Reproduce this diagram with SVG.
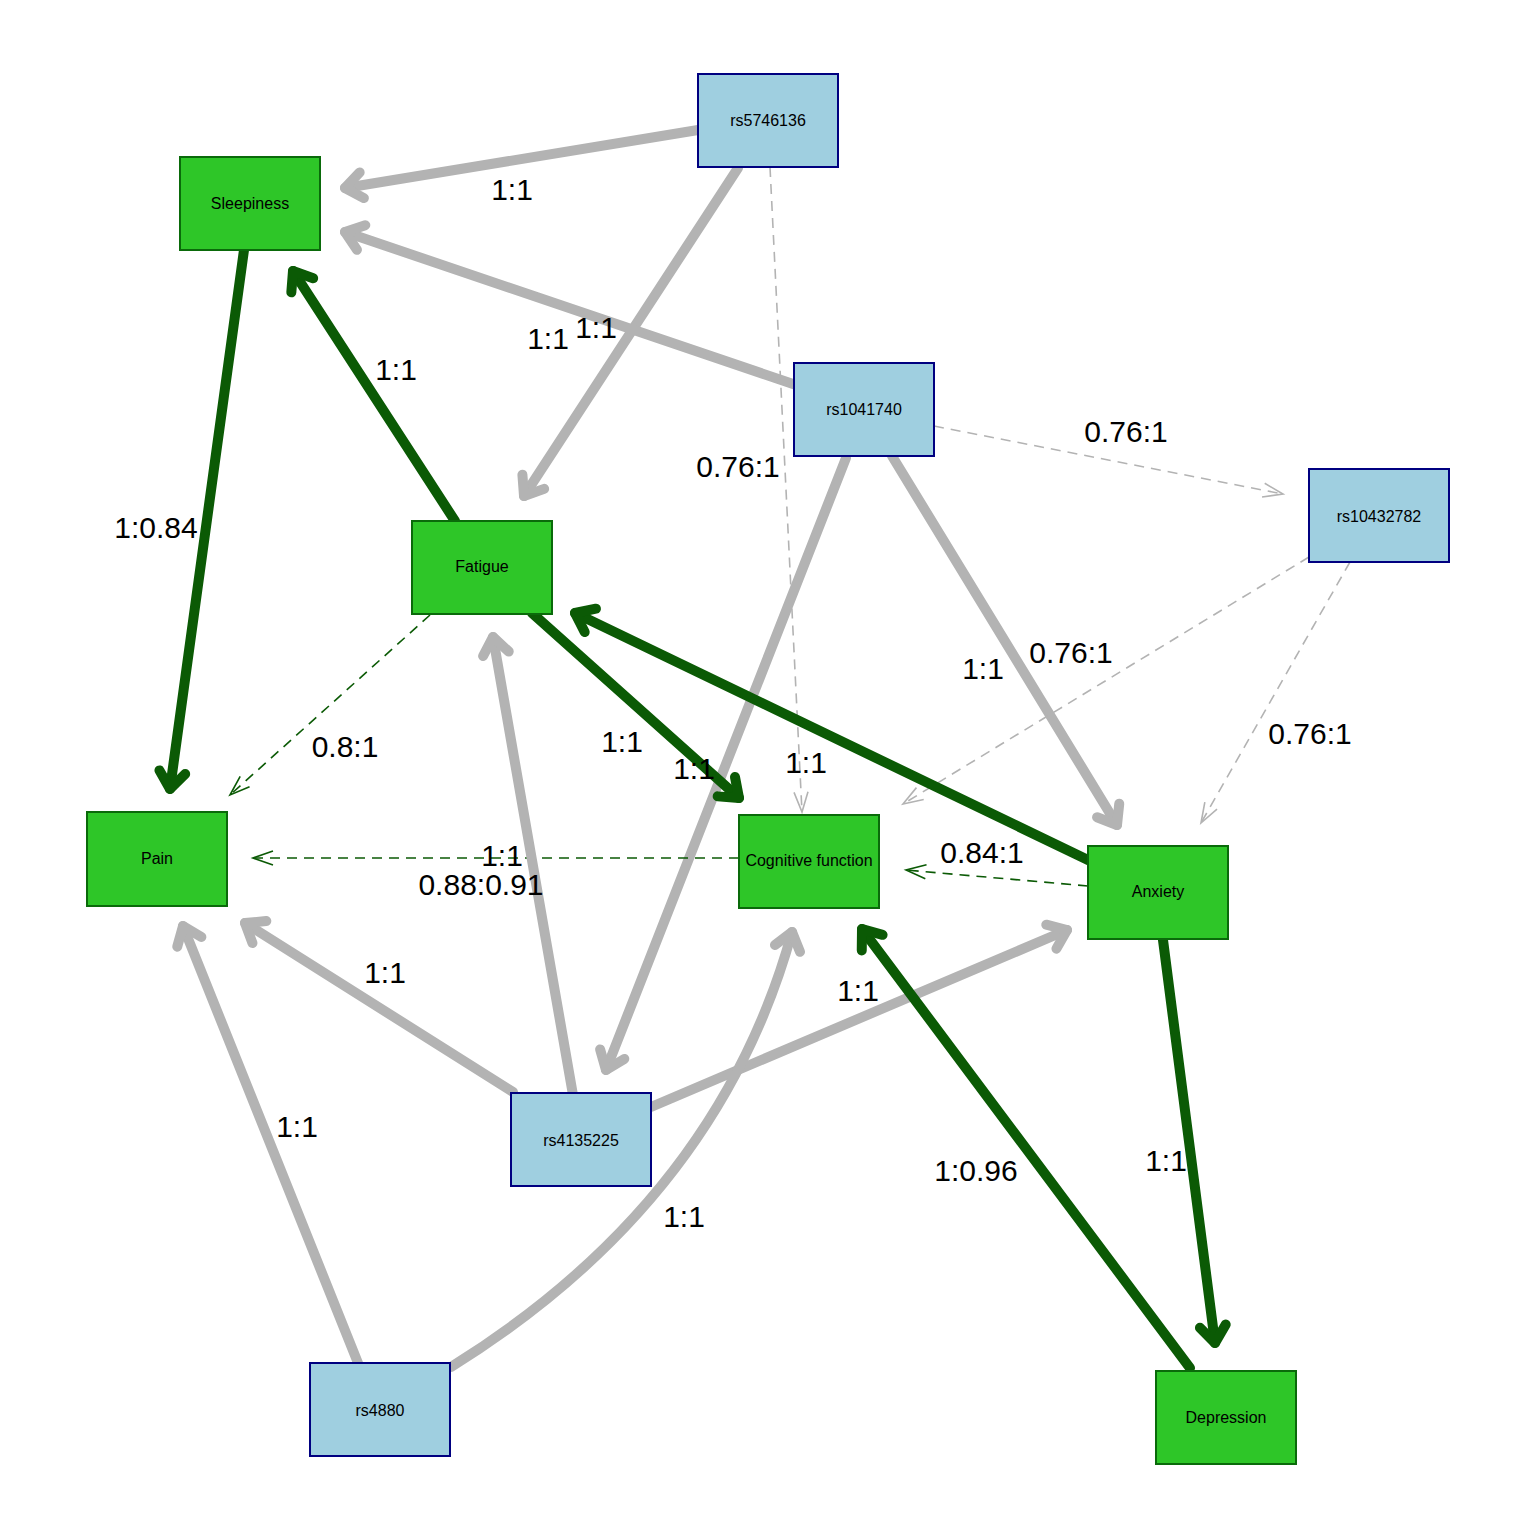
<svg xmlns="http://www.w3.org/2000/svg" width="1536" height="1536" viewBox="0 0 1536 1536">
<style>
.bg{fill:#ffffff}
.g rect{fill:#2EC628;stroke:#0A6A0A;stroke-width:2}
.b rect{fill:#9FCFE0;stroke:#000080;stroke-width:2}
.nt{font-family:"Liberation Sans",Arial,sans-serif;font-size:16px;fill:#000;text-anchor:middle}
.lb{font-family:"Liberation Sans",Arial,sans-serif;font-size:30px;fill:#000;text-anchor:middle}
.tg{fill:none;stroke:#B3B3B3;stroke-width:10;stroke-linecap:round}
.tk{fill:none;stroke:#0B5A05;stroke-width:10;stroke-linecap:round}
.dg{fill:none;stroke:#B3B3B3;stroke-width:1.6;stroke-dasharray:10 7}
.dk{fill:none;stroke:#0B5A05;stroke-width:1.6;stroke-dasharray:10 7}
</style>
<defs>
<marker id="ag" markerUnits="userSpaceOnUse" orient="auto" refX="0" refY="0" markerWidth="60" markerHeight="60" viewBox="-30 -30 60 60" overflow="visible">
<path d="M -17 -13 L 0 0 L -17 13" fill="none" stroke="#B3B3B3" stroke-width="10" stroke-linecap="round" stroke-linejoin="round"/>
</marker>
<marker id="ak" markerUnits="userSpaceOnUse" orient="auto" refX="0" refY="0" markerWidth="60" markerHeight="60" viewBox="-30 -30 60 60" overflow="visible">
<path d="M -17 -13 L 0 0 L -17 13" fill="none" stroke="#0B5A05" stroke-width="10" stroke-linecap="round" stroke-linejoin="round"/>
</marker>
<marker id="adg" markerUnits="userSpaceOnUse" orient="auto" refX="0" refY="0" markerWidth="60" markerHeight="60" viewBox="-30 -30 60 60" overflow="visible">
<path d="M -20 -7 L 0 0 L -20 7" fill="none" stroke="#B3B3B3" stroke-width="1.6"/>
</marker>
<marker id="adk" markerUnits="userSpaceOnUse" orient="auto" refX="0" refY="0" markerWidth="60" markerHeight="60" viewBox="-30 -30 60 60" overflow="visible">
<path d="M -20 -7 L 0 0 L -20 7" fill="none" stroke="#0B5A05" stroke-width="1.6"/>
</marker>
</defs>
<rect class="bg" x="0" y="0" width="1536" height="1536"/>
<g id="edges">
<path class="tg" d="M 698 130 L 345 188" marker-end="url(#ag)"/>
<path class="tg" d="M 738 168 L 524 496" marker-end="url(#ag)"/>
<path class="dg" d="M 770 167 L 802 812" marker-end="url(#adg)"/>
<path class="tg" d="M 796 385 L 345 232" marker-end="url(#ag)"/>
<path class="dg" d="M 934 426 L 1283 494" marker-end="url(#adg)"/>
<path class="tg" d="M 846 458 L 606 1070" marker-end="url(#ag)"/>
<path class="tg" d="M 892 456 L 1117 825" marker-end="url(#ag)"/>
<path class="dg" d="M 1309 557 L 903 804" marker-end="url(#adg)"/>
<path class="dg" d="M 1350 562 L 1201 823" marker-end="url(#adg)"/>
<path class="tk" d="M 244 250 L 170 789" marker-end="url(#ak)"/>
<path class="tk" d="M 455 521 L 293 271" marker-end="url(#ak)"/>
<path class="dk" d="M 430 615 L 230 795" marker-end="url(#adk)"/>
<path class="tk" d="M 532 613 L 739 798" marker-end="url(#ak)"/>
<path class="tk" d="M 1088 860 L 575 613" marker-end="url(#ak)"/>
<path class="dk" d="M 1088 886 L 906 870" marker-end="url(#adk)"/>
<path class="dk" d="M 739 858 L 253 858" marker-end="url(#adk)"/>
<path class="tg" d="M 513 1092 L 245 923" marker-end="url(#ag)"/>
<path class="tg" d="M 573 1095 L 493 637" marker-end="url(#ag)"/>
<path class="tg" d="M 651 1107 L 1067 930" marker-end="url(#ag)"/>
<path class="tg" d="M 358 1363 L 183 926" marker-end="url(#ag)"/>
<path class="tg" d="M 451 1367 Q 718 1201 792 932" marker-end="url(#ag)"/>
<path class="tk" d="M 1190 1368 L 862 929" marker-end="url(#ak)"/>
<path class="tk" d="M 1163 940 L 1215 1343" marker-end="url(#ak)"/>
</g>
<g id="edge-labels">
<text class="lb" x="512" y="200">1:1</text>
<text class="lb" x="596" y="338">1:1</text>
<text class="lb" x="548" y="349">1:1</text>
<text class="lb" x="396" y="380">1:1</text>
<text class="lb" x="1126" y="442">0.76:1</text>
<text class="lb" x="738" y="477">0.76:1</text>
<text class="lb" x="156" y="538">1:0.84</text>
<text class="lb" x="983" y="679">1:1</text>
<text class="lb" x="1071" y="663">0.76:1</text>
<text class="lb" x="1310" y="744">0.76:1</text>
<text class="lb" x="345" y="757">0.8:1</text>
<text class="lb" x="622" y="752">1:1</text>
<text class="lb" x="694" y="779">1:1</text>
<text class="lb" x="806" y="773">1:1</text>
<text class="lb" x="982" y="863">0.84:1</text>
<text class="lb" x="502" y="866">1:1</text>
<text class="lb" x="481" y="895">0.88:0.91</text>
<text class="lb" x="385" y="983">1:1</text>
<text class="lb" x="858" y="1001">1:1</text>
<text class="lb" x="297" y="1137">1:1</text>
<text class="lb" x="976" y="1181">1:0.96</text>
<text class="lb" x="1166" y="1171">1:1</text>
<text class="lb" x="684" y="1227">1:1</text>
</g>
<g id="rs5746136" class="b"><rect x="698" y="74" width="140" height="93"/><text class="nt" x="768" y="126">rs5746136</text></g>
<g id="Sleepiness" class="g"><rect x="180" y="157" width="140" height="93"/><text class="nt" x="250" y="209">Sleepiness</text></g>
<g id="rs1041740" class="b"><rect x="794" y="363" width="140" height="93"/><text class="nt" x="864" y="415">rs1041740</text></g>
<g id="rs10432782" class="b"><rect x="1309" y="469" width="140" height="93"/><text class="nt" x="1379" y="522">rs10432782</text></g>
<g id="Fatigue" class="g"><rect x="412" y="521" width="140" height="93"/><text class="nt" x="482" y="572">Fatigue</text></g>
<g id="Pain" class="g"><rect x="87" y="812" width="140" height="94"/><text class="nt" x="157" y="864">Pain</text></g>
<g id="Cognitive_function" class="g"><rect x="739" y="815" width="140" height="93"/><text class="nt" x="809" y="866">Cognitive function</text></g>
<g id="Anxiety" class="g"><rect x="1088" y="846" width="140" height="93"/><text class="nt" x="1158" y="897">Anxiety</text></g>
<g id="rs4135225" class="b"><rect x="511" y="1093" width="140" height="93"/><text class="nt" x="581" y="1146">rs4135225</text></g>
<g id="rs4880" class="b"><rect x="310" y="1363" width="140" height="93"/><text class="nt" x="380" y="1416">rs4880</text></g>
<g id="Depression" class="g"><rect x="1156" y="1371" width="140" height="93"/><text class="nt" x="1226" y="1423">Depression</text></g>
</svg>
